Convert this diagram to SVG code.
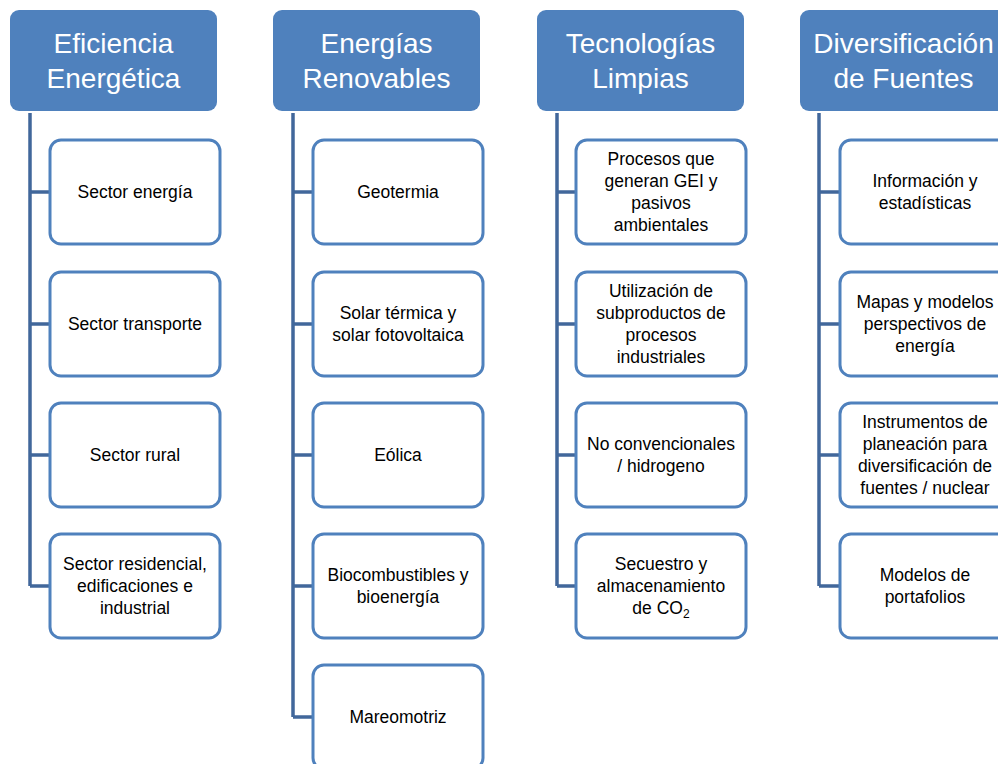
<svg xmlns="http://www.w3.org/2000/svg" width="998" height="764" viewBox="0 0 998 764">
<style>
.hdr{fill:#4F81BD;}
.ht{font-family:"Liberation Sans",Arial,sans-serif;font-size:28px;fill:#FFFFFF;text-anchor:middle;}
.box{fill:#FFFFFF;stroke:#4F81BD;stroke-width:3;}
.ct{font-family:"Liberation Sans",Arial,sans-serif;font-size:17.5px;fill:#000000;text-anchor:middle;}
.con{fill:none;stroke:#41679B;stroke-width:3.5;stroke-linejoin:miter;}
</style>
<rect width="998" height="764" fill="#FFFFFF"/>
<g id="connectors">
<path class="con" d="M30,113 V586 M30,192 H50 M30,324 H50 M30,455 H50 M30,586 H50"/>
<path class="con" d="M293,113 V717 M293,192 H313 M293,324 H313 M293,455 H313 M293,586 H313 M293,717 H313"/>
<path class="con" d="M557,113 V586 M557,192 H576 M557,324 H576 M557,455 H576 M557,586 H576"/>
<path class="con" d="M819,113 V586 M819,192 H840 M819,324 H840 M819,455 H840 M819,586 H840"/>
</g>
<g id="h1"><rect class="hdr" x="10" y="10" width="207" height="101" rx="9"/><text class="ht" x="113.5" y="53">Eficiencia</text><text class="ht" x="113.5" y="88">Energética</text></g>
<g id="h2"><rect class="hdr" x="273" y="10" width="207" height="101" rx="9"/><text class="ht" x="376.5" y="53">Energías</text><text class="ht" x="376.5" y="88">Renovables</text></g>
<g id="h3"><rect class="hdr" x="537" y="10" width="207" height="101" rx="9"/><text class="ht" x="640.5" y="53">Tecnologías</text><text class="ht" x="640.5" y="88">Limpias</text></g>
<g id="h4"><rect class="hdr" x="800" y="10" width="207" height="101" rx="9"/><text class="ht" x="903.5" y="53">Diversificación</text><text class="ht" x="903.5" y="88">de Fuentes</text></g>

<g id="c1r1"><rect class="box" x="50" y="140" width="170" height="104" rx="11"/><text class="ct" x="135" y="198">Sector energía</text></g>
<g id="c1r2"><rect class="box" x="50" y="272" width="170" height="104" rx="11"/><text class="ct" x="135" y="330">Sector transporte</text></g>
<g id="c1r3"><rect class="box" x="50" y="403" width="170" height="104" rx="11"/><text class="ct" x="135" y="461">Sector rural</text></g>
<g id="c1r4"><rect class="box" x="50" y="534" width="170" height="104" rx="11"/><text class="ct" x="135" y="570">Sector residencial,</text><text class="ct" x="135" y="592">edificaciones e</text><text class="ct" x="135" y="614">industrial</text></g>

<g id="c2r1"><rect class="box" x="313" y="140" width="170" height="104" rx="11"/><text class="ct" x="398" y="198">Geotermia</text></g>
<g id="c2r2"><rect class="box" x="313" y="272" width="170" height="104" rx="11"/><text class="ct" x="398" y="319">Solar térmica y</text><text class="ct" x="398" y="341">solar fotovoltaica</text></g>
<g id="c2r3"><rect class="box" x="313" y="403" width="170" height="104" rx="11"/><text class="ct" x="398" y="461">Eólica</text></g>
<g id="c2r4"><rect class="box" x="313" y="534" width="170" height="104" rx="11"/><text class="ct" x="398" y="581">Biocombustibles y</text><text class="ct" x="398" y="603">bioenergía</text></g>
<g id="c2r5"><rect class="box" x="313" y="665" width="170" height="104" rx="11"/><text class="ct" x="398" y="723">Mareomotriz</text></g>

<g id="c3r1"><rect class="box" x="576" y="140" width="170" height="104" rx="11"/><text class="ct" x="661" y="165">Procesos que</text><text class="ct" x="661" y="187">generan GEI y</text><text class="ct" x="661" y="209">pasivos</text><text class="ct" x="661" y="231">ambientales</text></g>
<g id="c3r2"><rect class="box" x="576" y="272" width="170" height="104" rx="11"/><text class="ct" x="661" y="297">Utilización de</text><text class="ct" x="661" y="319">subproductos de</text><text class="ct" x="661" y="341">procesos</text><text class="ct" x="661" y="363">industriales</text></g>
<g id="c3r3"><rect class="box" x="576" y="403" width="170" height="104" rx="11"/><text class="ct" x="661" y="450">No convencionales</text><text class="ct" x="661" y="472">/ hidrogeno</text></g>
<g id="c3r4"><rect class="box" x="576" y="534" width="170" height="104" rx="11"/><text class="ct" x="661" y="570">Secuestro y</text><text class="ct" x="661" y="592">almacenamiento</text><text class="ct" x="661" y="614">de CO<tspan font-size="12" dy="4">2</tspan></text></g>

<g id="c4r1"><rect class="box" x="840" y="140" width="170" height="104" rx="11"/><text class="ct" x="925" y="187">Información y</text><text class="ct" x="925" y="209">estadísticas</text></g>
<g id="c4r2"><rect class="box" x="840" y="272" width="170" height="104" rx="11"/><text class="ct" x="925" y="308">Mapas y modelos</text><text class="ct" x="925" y="330">perspectivos de</text><text class="ct" x="925" y="352">energía</text></g>
<g id="c4r3"><rect class="box" x="840" y="403" width="170" height="104" rx="11"/><text class="ct" x="925" y="428">Instrumentos de</text><text class="ct" x="925" y="450">planeación para</text><text class="ct" x="925" y="472">diversificación de</text><text class="ct" x="925" y="494">fuentes / nuclear</text></g>
<g id="c4r4"><rect class="box" x="840" y="534" width="170" height="104" rx="11"/><text class="ct" x="925" y="581">Modelos de</text><text class="ct" x="925" y="603">portafolios</text></g>
</svg>
